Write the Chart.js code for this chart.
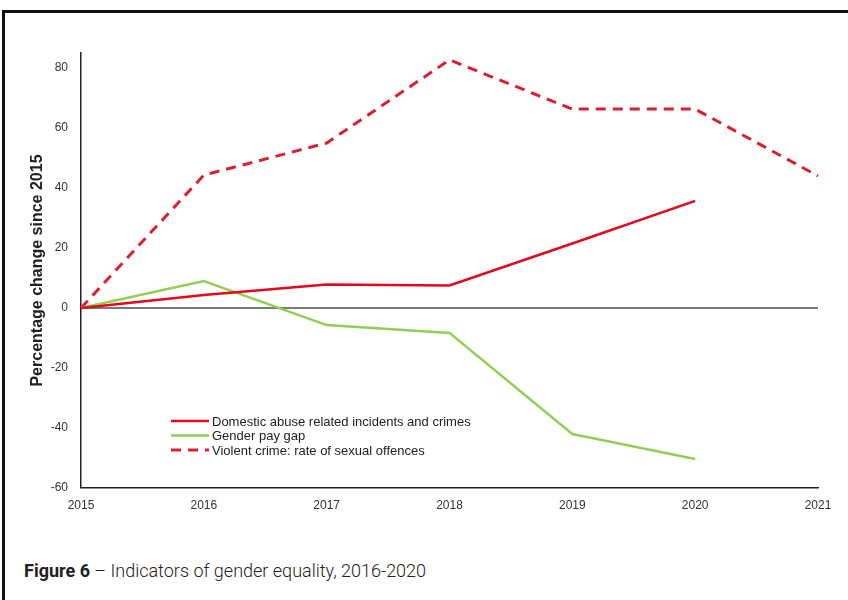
<!DOCTYPE html>
<html lang="en">
<head>
<meta charset="utf-8">
<title>Figure 6 - Indicators of gender equality</title>
<script src="https://cdn.jsdelivr.net/npm/chart.js@4/dist/chart.umd.min.js"></script>
<style>
  html, body { margin: 0; padding: 0; background: #fff; }
  body { width: 848px; height: 600px; position: relative; overflow: hidden; }
  #cadre {
    position: absolute; left: 2px; top: 10px; right: 0; bottom: 0;
    border-top: 3px solid #111; border-left: 3px solid #111;
  }
  #zone { position: absolute; left: 0; top: 0; width: 848px; height: 540px; }
  #legende-figure {
    position: absolute; left: 24px; top: 560px;
    font-family: Roboto, "Liberation Sans", sans-serif; font-size: 18px; color: #222;
    font-weight: 300;
  }
  #legende-figure strong { font-weight: 700; }
</style>
</head>
<body>
<div id="cadre"></div>
<div id="zone"><canvas id="graphique"></canvas></div>
<div id="legende-figure"><strong>Figure 6</strong> – Indicators of gender equality, 2016-2020</div>

<script>
// =====================================================================
// Figure 6 - indicateurs d'égalité femmes-hommes
// Variation en % depuis 2015
// =====================================================================

const annees = ['2015', '2016', '2017', '2018', '2019', '2020', '2021'];
const violencesConjugales = [0, 4.3, 7.8, 7.5, 21.5, 35.7, null];
const ecartSalarial = [0, 9, -5.7, -8.3, -42, -50.3, null];
const infractionsSexuelles = [0, 44.3, 55, 82.7, 66.3, 66.3, 44];
const graduationsY = [-60, -40, -20, 0, 20, 40, 60, 80];

const ROUGE = '#e5071c';
const ROUGE_TIRETS = '#dc1f30';
const VERT = '#92cf55';

// Légende dessinée à l'intérieur de la zone du graphique
const legendeInterne = {
  id: 'legendeInterne',
  afterDraw(chart) {
    const ctx = chart.ctx;
    const x = 171, y0 = 421, pas = 14.5;
    ctx.save();
    ctx.font = '13px "Liberation Sans", Arial, sans-serif';
    ctx.fillStyle = '#222';
    ctx.textBaseline = 'middle';
    chart.data.datasets.forEach((ds, i) => {
      const y = y0 + i * pas;
      ctx.beginPath();
      ctx.strokeStyle = ds.borderColor;
      ctx.lineWidth = ds.borderWidth;
      ctx.setLineDash(ds.borderDash || []);
      ctx.moveTo(x, y);
      ctx.lineTo(x + 38, y);
      ctx.stroke();
      ctx.setLineDash([]);
      ctx.fillText(ds.label, x + 41, y + 1);
    });
    ctx.restore();
  }
};

new Chart(document.getElementById('graphique').getContext('2d'), {
  type: 'line',
  data: {
    labels: annees,
    datasets: [
      {
        label: 'Domestic abuse related incidents and crimes',
        data: violencesConjugales,
        borderColor: ROUGE,
        borderWidth: 2.5,
        pointRadius: 0,
        tension: 0
      },
      {
        label: 'Gender pay gap',
        data: ecartSalarial,
        borderColor: VERT,
        borderWidth: 2.5,
        pointRadius: 0,
        tension: 0
      },
      {
        label: 'Violent crime: rate of sexual offences',
        data: infractionsSexuelles,
        borderColor: ROUGE_TIRETS,
        borderWidth: 3,
        borderDash: [10, 7],
        pointRadius: 0,
        tension: 0
      }
    ]
  },
  options: {
    responsive: true,
    maintainAspectRatio: false,
    animation: false,
    layout: { padding: { top: 53, right: 30, left: 0, bottom: 0 } },
    plugins: { legend: { display: false }, tooltip: { enabled: false } },
    scales: {
      x: {
        grid: { display: false, drawTicks: false },
        border: { display: true, color: '#222', width: 1.5 },
        ticks: {
          padding: 10,
          color: '#333',
          font: { family: '"Liberation Sans", Arial, sans-serif', size: 12 },
          maxRotation: 0,
          autoSkip: false
        },
        afterFit(scale) { scale.height = 52; }
      },
      y: {
        min: -60,
        max: 85,
        afterBuildTicks(scale) {
          scale.ticks = graduationsY.map((v) => ({ value: v }));
        },
        grid: {
          drawTicks: false,
          color: (c) => (c.tick && c.tick.value === 0 ? '#7a7a7a' : 'transparent'),
          lineWidth: (c) => (c.tick && c.tick.value === 0 ? 2 : 0)
        },
        border: { display: true, color: '#222', width: 1.5 },
        ticks: {
          padding: 13,
          color: '#333',
          font: { family: '"Liberation Sans", Arial, sans-serif', size: 12 }
        },
        title: {
          display: true,
          text: 'Percentage change since 2015',
          color: '#222',
          font: { family: '"Liberation Sans", Arial, sans-serif', size: 16, weight: 'bold' },
          padding: { top: 28, bottom: 0 }
        },
        afterFit(scale) { scale.width = 81; }
      }
    }
  },
  plugins: [legendeInterne]
});
</script>
</body>
</html>
